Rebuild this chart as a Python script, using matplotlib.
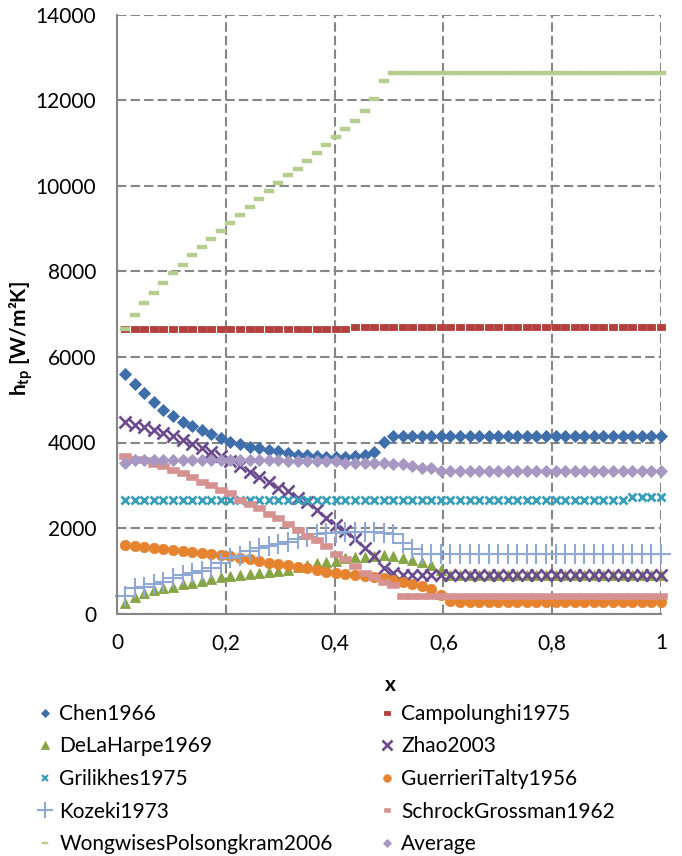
import matplotlib
matplotlib.use("Agg")
import matplotlib.pyplot as plt
from matplotlib.path import Path

plt.rcParams['font.family'] = ['Lato', 'DejaVu Sans']
plt.rcParams['mathtext.fontset'] = 'custom'
plt.rcParams['mathtext.rm'] = 'Lato'
plt.rcParams['mathtext.bf'] = 'Lato:bold'

### Data
x = [0.015, 0.033, 0.050, 0.068, 0.085, 0.103, 0.121, 0.138, 0.156, 0.173,
     0.191, 0.208, 0.226, 0.244, 0.261, 0.279, 0.296, 0.314, 0.332, 0.349,
     0.367, 0.384, 0.402, 0.420, 0.437, 0.455, 0.472, 0.490, 0.507, 0.525,
     0.543, 0.560, 0.578, 0.595, 0.613, 0.631, 0.648, 0.666, 0.683, 0.701,
     0.719, 0.736, 0.754, 0.771, 0.789, 0.807, 0.824, 0.842, 0.859, 0.877,
     0.894, 0.912, 0.930, 0.947, 0.965, 0.982, 1.000]

chen = [5600, 5370, 5150, 4955, 4760, 4620, 4485, 4385, 4290, 4200,
        4100, 4020, 3965, 3905, 3870, 3830, 3790, 3750, 3710, 3700,
        3685, 3670, 3665, 3665, 3685, 3710, 3785, 4010, 4160, 4160,
        4160, 4160, 4160, 4160, 4160, 4160, 4160, 4160, 4160, 4160,
        4160, 4160, 4160, 4160, 4160, 4160, 4160, 4160, 4160, 4160,
        4160, 4160, 4160, 4160, 4160, 4160, 4160]
campolunghi = [6650, 6650, 6650, 6650, 6650, 6650, 6650, 6650, 6650, 6650,
               6650, 6650, 6650, 6650, 6650, 6650, 6650, 6650, 6650, 6650,
               6650, 6650, 6650, 6650, 6710, 6710, 6710, 6710, 6710, 6710,
               6710, 6710, 6710, 6710, 6710, 6710, 6710, 6710, 6710, 6710,
               6710, 6710, 6710, 6710, 6710, 6710, 6710, 6710, 6710, 6710,
               6710, 6710, 6710, 6710, 6710, 6710, 6710]
delaharpe = [253, 380, 472, 550, 589, 627, 690, 720, 767, 800,
             847, 877, 900, 930, 940, 978, 994, 1017, 1080, 1134,
             1174, 1212, 1235, 1291, 1314, 1329, 1345, 1368, 1345, 1291,
             1251, 1212, 1134, 1017, 910, 910, 910, 910, 910, 910,
             910, 910, 910, 910, 910, 910, 910, 910, 910, 910,
             910, 910, 910, 910, 910, 910, 910]
zhao = [4490, 4420, 4360, 4285, 4215, 4148, 4054, 3966, 3870, 3770,
        3676, 3559, 3443, 3320, 3185, 3068, 2944, 2855, 2698, 2600,
        2417, 2244, 2075, 1919, 1744, 1530, 1335, 1062, 950, 890,
        890, 890, 890, 890, 890, 890, 890, 890, 890, 890,
        890, 890, 890, 890, 890, 890, 890, 890, 890, 890,
        890, 890, 890, 890, 890, 890, 890]
grilikhes = [2650, 2650, 2650, 2650, 2650, 2650, 2650, 2650, 2650, 2650,
             2650, 2650, 2650, 2650, 2650, 2650, 2650, 2650, 2650, 2650,
             2650, 2650, 2650, 2650, 2650, 2650, 2650, 2650, 2650, 2650,
             2650, 2650, 2650, 2650, 2650, 2650, 2650, 2650, 2650, 2650,
             2650, 2650, 2650, 2650, 2650, 2650, 2650, 2650, 2650, 2650,
             2650, 2650, 2650, 2720, 2720, 2720, 2720]
guerrieri = [1600, 1580, 1555, 1540, 1515, 1495, 1465, 1445, 1415, 1395,
             1360, 1335, 1300, 1275, 1235, 1190, 1158, 1134, 1095, 1057,
             1017, 978, 954, 924, 908, 877, 850, 820, 790, 744,
             690, 643, 566, 433, 299, 280, 280, 280, 280, 280,
             280, 280, 280, 280, 280, 280, 280, 280, 280, 280,
             280, 280, 280, 280, 280, 280, 280]
kozeki = [410, 590, 627, 690, 744, 823, 900, 940, 1001, 1057,
          1174, 1291, 1345, 1465, 1525, 1579, 1626, 1679, 1736, 1796,
          1853, 1890, 1890, 1900, 1913, 1913, 1900, 1890, 1860, 1650,
          1500, 1400, 1400, 1400, 1400, 1400, 1400, 1400, 1400, 1400,
          1400, 1400, 1400, 1400, 1400, 1400, 1400, 1400, 1400, 1400,
          1400, 1400, 1400, 1400, 1400, 1400, 1400]
schrock = [3691, 3614, 3590, 3497, 3450, 3357, 3279, 3200, 3083, 3006,
           2889, 2811, 2655, 2561, 2461, 2328, 2227, 2094, 1953, 1813,
           1719, 1579, 1392, 1268, 1111, 940, 847, 744, 660, 410,
           410, 410, 410, 410, 410, 410, 410, 410, 410, 410,
           410, 410, 410, 410, 410, 410, 410, 410, 410, 410,
           410, 410, 410, 410, 410, 410, 410]
wongwises = [6660, 6990, 7270, 7495, 7728, 7962, 8156, 8390, 8577, 8764,
             8951, 9138, 9325, 9512, 9698, 9885, 10072, 10259, 10399, 10586,
             10773, 10960, 11147, 11334, 11521, 11755, 12036, 12456, 12640, 12640,
             12640, 12640, 12640, 12640, 12640, 12640, 12640, 12640, 12640, 12640,
             12640, 12640, 12640, 12640, 12640, 12640, 12640, 12640, 12640, 12640,
             12640, 12640, 12640, 12640, 12640, 12640, 12640]
average = [3530, 3590, 3590, 3590, 3590, 3590, 3590, 3590, 3590, 3590,
           3590, 3590, 3590, 3580, 3580, 3580, 3580, 3560, 3560, 3560,
           3560, 3560, 3560, 3530, 3530, 3530, 3530, 3510, 3500, 3500,
           3450, 3400, 3400, 3345, 3345, 3345, 3345, 3345, 3345, 3345,
           3345, 3345, 3345, 3345, 3345, 3345, 3345, 3345, 3345, 3345,
           3345, 3345, 3345, 3345, 3345, 3345, 3345]

x_ticks = [0, 0.2, 0.4, 0.6, 0.8, 1]
x_ticklabels = ['0', '0,2', '0,4', '0,6', '0,8', '1']
y_ticks = [0, 2000, 4000, 6000, 8000, 10000, 12000, 14000]


def rect_marker(w, h):
    return Path([(-w, -h), (w, -h), (w, h), (-w, h), (-w, -h)],
                [Path.MOVETO, Path.LINETO, Path.LINETO, Path.LINETO, Path.CLOSEPOLY])


# name, data, marker, size, legend size, color, edge width
series = [
    ('Chen1966', chen, 'D', 6, 3.6, '#3F6FAA', 0.6),
    ('Campolunghi1975', campolunghi, rect_marker(1, 0.85), 5.4, 3.8, '#B3403D', 0.6),
    ('DeLaHarpe1969', delaharpe, '^', 7.5, 5.5, '#86A544', 0.6),
    ('Zhao2003', zhao, 'x', 8.5, 7, '#6B4B8E', 1.9),
    ('Grilikhes1975', grilikhes, 'x', 6, 5, '#37A0B8', 2.0),
    ('GuerrieriTalty1956', guerrieri, 'o', 7.5, 5.5, '#E6832F', 0.5),
    ('Kozeki1973', kozeki, '+', 14, 11, '#8FA9D4', 1.5),
    ('SchrockGrossman1962', schrock, rect_marker(1, 0.5), 8, 5, '#D59291', 0.4),
    ('WongwisesPolsongkram2006', wongwises, rect_marker(1, 0.38), 7.5, 5, '#B6CD90', 0.3),
    ('Average', average, 'D', 6, 3.6, '#A698C2', 0.6),
]

fig = plt.figure(figsize=(6.82, 8.56), dpi=100)
ax = fig.add_axes([117 / 682, 1 - 613.5 / 856, 544 / 682, 598.5 / 856])

handles = {}
legend_sizes = {}
for name, vals, marker, ms, leg_ms, color, mew in series:
    h, = ax.plot(x, vals, linestyle='none', marker=marker, markersize=ms,
                 color=color, markeredgecolor=color, markeredgewidth=mew,
                 clip_on=False, label=name)
    handles[name] = h
    legend_sizes[name] = leg_ms

ax.set_xlim(0, 1)
ax.set_ylim(0, 14000)
ax.set_xticks(x_ticks)
ax.set_xticklabels(x_ticklabels)
ax.set_yticks(y_ticks)
ax.grid(True, color='#868686', linestyle=(0, (4.5, 2)), linewidth=1.5)
ax.set_axisbelow(True)
for side in ['top', 'right']:
    ax.spines[side].set_visible(False)
for side in ['left', 'bottom']:
    ax.spines[side].set_color('#868686')
    ax.spines[side].set_linewidth(1.5)
ax.tick_params(axis='both', length=0, labelsize=15)
ax.tick_params(axis='y', pad=15)
ax.tick_params(axis='x', pad=14)

ax.set_xlabel('x', fontsize=15, fontweight='bold')
ax.xaxis.set_label_coords(0.502, -0.103)
ax.set_ylabel(r'$\mathbf{h_{tp}}$ [W/m²K]', fontsize=15, fontweight='bold')
ax.yaxis.set_label_coords(-0.15, 0.46)

# Two single-column legends so the rows read left to right like the original
col1 = ['Chen1966', 'DeLaHarpe1969', 'Grilikhes1975', 'Kozeki1973', 'WongwisesPolsongkram2006']
col2 = ['Campolunghi1975', 'Zhao2003', 'GuerrieriTalty1956', 'SchrockGrossman1962', 'Average']
for names, left in [(col1, 36.5), (col2, 378.5)]:
    leg = fig.legend([handles[n] for n in names], names, loc='upper left',
                     bbox_to_anchor=(left / 682, 1 - 704 / 856), frameon=False,
                     fontsize=15, handlelength=0.8, handletextpad=0.3,
                     borderpad=0, borderaxespad=0, labelspacing=0.6)
    for lh, n in zip(leg.legend_handles, names):
        lh.set_markersize(legend_sizes[n])
        if n == 'Grilikhes1975':
            lh.set_markeredgewidth(1.6)

plt.savefig('out.png', dpi=100)
